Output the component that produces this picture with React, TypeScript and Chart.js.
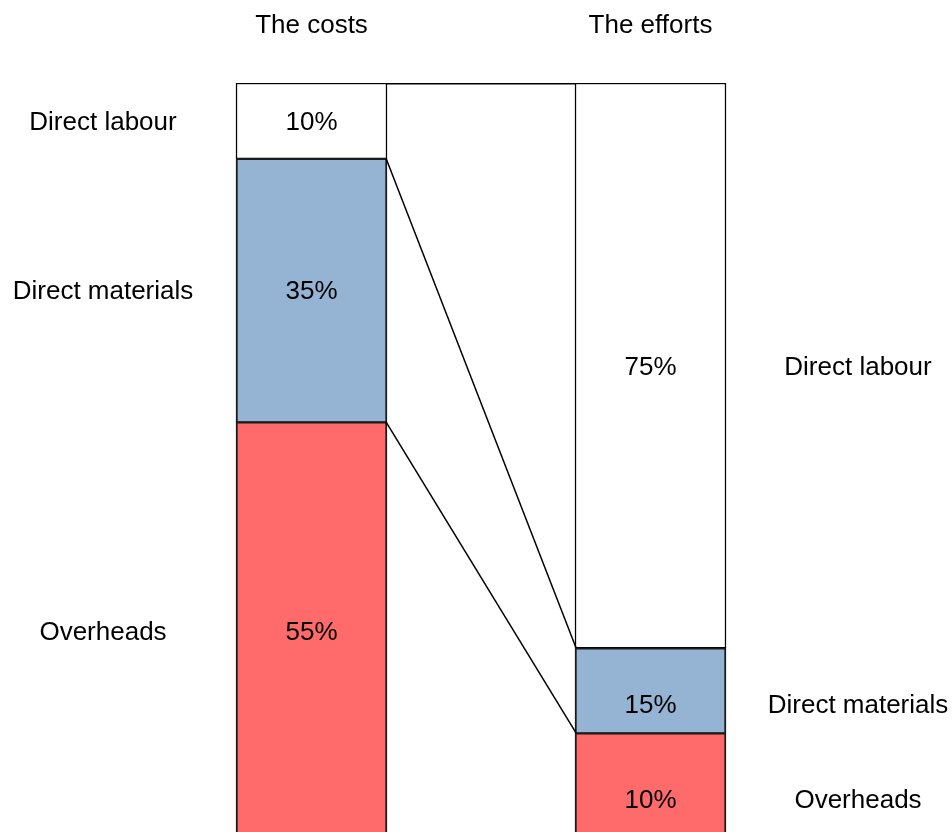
import React, { useEffect, useRef } from "react";
import { Chart, registerables } from "chart.js";

Chart.register(...registerables);

const categories = ["The costs", "The efforts"];
// segments, bottom to top
const segmentNames = ["Overheads", "Direct materials", "Direct labour"];
const costsShares = [55, 35, 10];
const effortsShares = [10, 15, 75];
// efforts segment heights as drawn in the picture
const effortsDrawn = [13.7, 11.3, 75];
const costsLabels = ["55%", "35%", "10%"];
const effortsLabels = ["10%", "15%", "75%"];
const segmentColors = ["#FF6A6A", "#95B3D3", "#FFFFFF"];

const FONT = '26px "Liberation Sans", Arial, sans-serif';

const cum = (arr: number[]) => {
  const out: number[] = [];
  let s = 0;
  for (const v of arr) {
    s += v;
    out.push(s);
  }
  return out;
};

const overlayPlugin = {
  id: "overlay",
  afterDraw(chart: any) {
    const ctx = chart.ctx;
    const y = chart.scales.y;
    const barC = chart.getDatasetMeta(0).data[0];
    const barE = chart.getDatasetMeta(0).data[1];
    const cRight = barC.x + barC.width / 2;
    const eLeft = barE.x - barE.width / 2;

    // connectors
    const cumC = cum(costsShares);
    const cumE = cum(effortsDrawn);
    ctx.save();
    ctx.strokeStyle = "#000";
    ctx.lineWidth = 1.5;
    for (let i = 0; i < cumC.length; i++) {
      ctx.beginPath();
      const y1 = y.getPixelForValue(cumC[i]) + (i === cumC.length - 1 ? 0.75 : 0);
      const y2 = y.getPixelForValue(cumE[i]) + (i === cumE.length - 1 ? 0.75 : 0);
      ctx.moveTo(cRight - 1, y1);
      ctx.lineTo(eLeft + 1, y2);
      ctx.stroke();
    }

    // texts
    ctx.fillStyle = "#000";
    ctx.font = FONT;
    ctx.textAlign = "center";
    ctx.textBaseline = "middle";
    ctx.fillText(categories[0], barC.x, 26);
    ctx.fillText(categories[1], barE.x, 26);

    let base = 0;
    for (let i = 0; i < costsShares.length; i++) {
      const mid = y.getPixelForValue(base + costsShares[i] / 2) + (i === 0 ? 4 : 2);
      ctx.fillText(costsLabels[i], barC.x, mid);
      ctx.fillText(segmentNames[i], 103, mid);
      base += costsShares[i];
    }
    base = 0;
    for (let i = 0; i < effortsShares.length; i++) {
      const mid = y.getPixelForValue(base + effortsShares[i] / 2) + 2;
      ctx.fillText(effortsLabels[i], barE.x, mid);
      ctx.fillText(segmentNames[i], 858, mid);
      base += effortsShares[i];
    }
    ctx.restore();
  },
};

export default function App() {
  const ref = useRef<HTMLCanvasElement>(null);
  useEffect(() => {
    if (!ref.current) return;
    const chart = new Chart(ref.current, {
      type: "bar",
      data: {
        labels: categories,
        datasets: segmentNames.map((name, i) => ({
          label: name,
          data: [costsShares[i], effortsDrawn[i]],
          backgroundColor: segmentColors[i],
          borderColor: i === 2 ? "#000" : "#1a1a1a",
          borderWidth:
            i === 2
              ? { top: 1.5, left: 1.5, right: 1.5, bottom: 1 }
              : { top: 2, left: 2, right: 2, bottom: 1 },
          borderSkipped: false,
          barThickness: 151,
        })),
      },
      options: {
        animation: false,
        responsive: false,
        maintainAspectRatio: false,
        devicePixelRatio: 1,
        layout: { padding: { top: 83, bottom: 0, left: 142, right: 132 } },
        plugins: { legend: { display: false }, tooltip: { enabled: false } },
        scales: {
          x: { stacked: true, display: false },
          y: { stacked: true, display: false, min: 0.53, max: 100 },
        },
      },
      plugins: [overlayPlugin],
    });
    return () => chart.destroy();
  }, []);
  return (
    <div style={{ position: "fixed", left: 0, top: 0, width: 952, height: 832, background: "#fff" }}>
      <canvas ref={ref} width={952} height={832} style={{ display: "block" }} />
    </div>
  );
}
